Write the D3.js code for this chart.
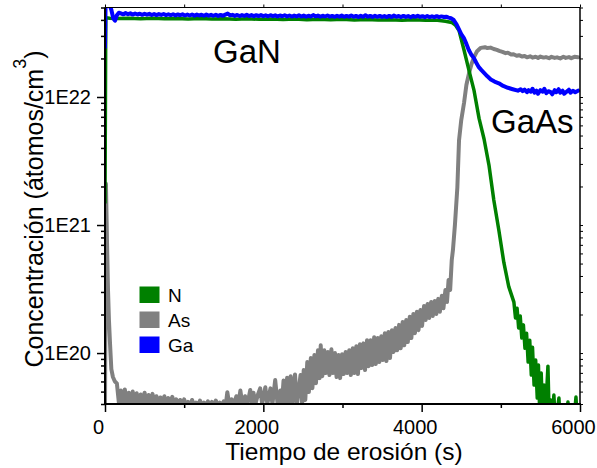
<!DOCTYPE html>
<html>
<head>
<meta charset="utf-8">
<script src="https://cdn.jsdelivr.net/npm/d3@7"></script>
<style>
  body { margin: 0; background: #fff; }
  svg { display: block; }
  text { font-family: "Liberation Sans", Arial, sans-serif; fill: #000; }
</style>
</head>
<body>
<svg id="chart" width="597" height="468"></svg>
<script>
// SIMS depth profile of a GaN layer on GaAs: concentration vs sputter time.
const seriesNames = ["N", "As", "Ga"];
const seriesColors = ["#008000", "#808080", "#0000ff"];
const layerLabels = ["GaN", "GaAs"];
const xTitle = "Tiempo de erosión (s)";
const yTitleMain = "Concentración (átomos/cm";
const yTitleSup = "3";
const xTickValues = [0, 2000, 4000, 6000];
const xTickLabels = ["0", "2000", "4000", "6000"];
const xMinorTicks = [1000, 3000, 5000];
const yTickValues = [1e20, 1e21, 1e22];
const yTickLabels = ["1E20", "1E21", "1E22"];

// [time (s), concentration (atoms/cm3)]
const nData = [
  [0, 1.5e21], [10, 4.15e22], [60, 4.12e22], [150, 4.1e22], [300, 4.13e22], [450, 4.09e22],
  [600, 4.12e22], [750, 4.08e22], [900, 4.11e22], [1050, 4.07e22], [1200, 4.1e22], [1350, 4.06e22],
  [1500, 4.09e22], [1650, 4.05e22], [1800, 4.08e22], [1950, 4.04e22], [2100, 4.07e22], [2250, 4.03e22],
  [2400, 4.06e22], [2550, 4.02e22], [2700, 4.05e22], [2850, 4.01e22], [3000, 4.04e22], [3150, 4.0e22],
  [3300, 4.03e22], [3450, 3.99e22], [3600, 4.02e22], [3750, 3.98e22], [3900, 4.01e22], [4050, 3.97e22],
  [4200, 3.98e22], [4300, 3.9e22], [4380, 3.82e22], [4430, 3.62e22], [4472, 3.3e22], [4535, 2.33e22],
  [4599, 1.6e22], [4662, 1.12e22], [4725, 6.8e21], [4788, 4.7e21], [4850, 2.94e21], [4911, 1.57e21],
  [4975, 9.1e20], [5038, 5.1e20], [5100, 3.3e20], [5165, 2.5e20], [5185, 1.88e20], [5205, 2.24e20],
  [5225, 1.57e20], [5245, 1.95e20], [5265, 1.31e20], [5285, 1.66e20], [5305, 1.09e20], [5325, 1.43e20],
  [5345, 8.5e19], [5365, 1.26e20], [5385, 6.73e19], [5400, 1.11e20], [5420, 5.62e19], [5440, 8.81e19],
  [5460, 4.45e19], [5475, 8.06e19], [5490, 3.58e19], [5510, 6.98e19], [5525, 3.58e19], [5545, 5.62e19],
  [5565, 3.27e19], [5580, 5.14e19], [5595, 7.9e19], [5610, 3.27e19], [5630, 4.3e19], [5650, 2.99e19],
  [5670, 4.7e19], [5690, 2.74e19], [5734, 4.45e19], [5750, 2.74e19], [5800, 2.74e19], [5848, 4.14e19],
  [5870, 2.74e19], [5920, 2.74e19], [5949, 4.53e19], [5970, 2.74e19]
];

const asData = [
  [0, 3.5e19], [12, 2.1e21], [25, 7.6e20], [38, 3.1e20], [50, 1.8e20], [63, 1.2e20], [80, 7.5e19],
  [100, 6.5e19], [125, 6.0e19],
  [150, 5.8e19], [175, 4.1e19], [200, 5.1e19], [225, 4.1e19], [250, 5.2e19], [275, 4.1e19],
  [300, 4.9e19], [325, 4.1e19], [350, 5.0e19], [375, 4.1e19], [400, 4.85e19], [425, 4.1e19],
  [450, 4.75e19], [475, 4.1e19], [500, 4.9e19], [525, 4.1e19], [550, 4.7e19], [575, 4.1e19],
  [600, 4.8e19], [625, 4.1e19], [650, 4.6e19], [675, 4.05e19], [700, 4.5e19], [725, 4.0e19],
  [750, 4.6e19], [775, 4.0e19], [800, 4.45e19], [825, 3.95e19], [850, 4.55e19], [875, 3.95e19],
  [900, 4.35e19], [925, 3.9e19], [950, 4.3e19], [975, 3.9e19], [1000, 4.35e19], [1025, 3.9e19],
  [1050, 4.15e19], [1075, 3.9e19], [1100, 4.3e19], [1125, 3.9e19], [1150, 4.1e19], [1175, 3.9e19],
  [1200, 4.25e19], [1225, 3.9e19], [1250, 4.1e19], [1275, 3.9e19], [1300, 4.2e19], [1325, 3.9e19],
  [1350, 4.15e19], [1375, 3.9e19], [1400, 4.25e19], [1425, 3.9e19], [1450, 4.1e19], [1475, 3.9e19],
  [1500, 4.2e19], [1525, 3.9e19], [1545, 4.95e19], [1570, 3.95e19], [1600, 4.35e19], [1625, 3.95e19],
  [1660, 4.6e19], [1685, 4.0e19], [1710, 5.1e19], [1735, 4.0e19], [1770, 4.6e19], [1800, 4.0e19],
  [1835, 5.15e19], [1860, 4.0e19], [1875, 4.9e19], [1900, 4.0e19], [1930, 4.7e19], [1960, 5.3e19],
  [1985, 4.0e19], [2025, 5.4e19], [2050, 4.0e19], [2090, 5.3e19], [2115, 4.0e19], [2150, 6.15e19],
  [2180, 4.0e19], [2215, 5.1e19], [2235, 4.0e19], [2255, 6.1e19], [2280, 4.0e19], [2300, 6.4e19],
  [2325, 4.0e19], [2345, 6.6e19], [2370, 4.0e19], [2400, 6.8e19], [2425, 4.0e19],
  [2470, 6.73e19], [2490, 4.0e19], [2510, 7.37e19], [2530, 4.3e19], [2555, 8.5e19], [2575, 4.96e19],
  [2600, 9.14e19], [2620, 5.32e19], [2645, 9.65e19], [2665, 5.82e19], [2690, 1.05e20], [2710, 6.37e19],
  [2725, 1.15e20], [2745, 6.6e19], [2770, 1.05e20], [2790, 6.98e19], [2815, 1.02e20], [2835, 6.73e19],
  [2860, 1.07e20], [2880, 6.98e19], [2905, 1.0e20], [2925, 6.5e19], [2950, 9.65e19], [2970, 6.37e19],
  [2995, 9.8e19], [3015, 6.85e19], [3040, 1.02e20], [3060, 6.98e19], [3085, 1.05e20], [3105, 6.73e19],
  [3130, 1.09e20], [3150, 6.98e19], [3175, 1.13e20], [3195, 6.85e19], [3220, 1.17e20], [3240, 7.64e19],
  [3265, 1.19e20], [3285, 7.37e19], [3310, 1.26e20], [3330, 7.9e19], [3355, 1.26e20], [3375, 8.06e19],
  [3400, 1.33e20], [3420, 8.2e19], [3445, 1.31e20], [3465, 8.5e19], [3490, 1.35e20], [3510, 8.81e19],
  [3535, 1.43e20], [3555, 8.66e19], [3580, 1.46e20], [3600, 9.14e19], [3625, 1.51e20], [3645, 1.02e20],
  [3670, 1.57e20], [3690, 1.05e20], [3715, 1.66e20], [3735, 1.09e20], [3760, 1.75e20], [3780, 1.15e20],
  [3805, 1.81e20], [3825, 1.22e20], [3850, 1.92e20], [3870, 1.31e20], [3895, 2.02e20], [3915, 1.43e20],
  [3940, 2.1e20], [3960, 1.51e20], [3985, 2.17e20], [4005, 1.63e20], [4030, 2.33e20], [4050, 1.81e20],
  [4075, 2.42e20], [4095, 1.88e20], [4120, 2.5e20], [4140, 1.95e20], [4165, 2.55e20], [4185, 2.02e20],
  [4210, 2.65e20], [4230, 2.1e20], [4255, 2.8e20], [4275, 2.24e20], [4300, 3.11e20], [4320, 2.5e20],
  [4340, 3.72e20], [4360, 3.11e20], [4380, 5.32e20], [4395, 6.37e20], [4420, 1.0e21], [4451, 1.98e21],
  [4472, 4.6e21], [4500, 6.6e21], [4535, 8.97e21], [4565, 1.24e22], [4599, 1.54e22], [4630, 1.81e22],
  [4662, 2.05e22], [4700, 2.28e22], [4747, 2.42e22], [4800, 2.45e22], [4830, 2.41e22], [4870, 2.43e22],
  [4911, 2.37e22], [4950, 2.33e22], [4980, 2.29e22], [5020, 2.25e22], [5060, 2.2e22], [5089, 2.22e22],
  [5130, 2.15e22], [5160, 2.16e22], [5200, 2.1e22], [5230, 2.12e22], [5270, 2.07e22], [5300, 2.09e22],
  [5330, 2.04e22], [5370, 2.08e22], [5400, 2.03e22], [5440, 2.06e22], [5470, 2.02e22], [5500, 2.07e22],
  [5540, 2.03e22], [5570, 2.05e22], [5610, 2.01e22], [5640, 2.06e22], [5680, 2.02e22], [5710, 2.04e22],
  [5750, 2.0e22], [5790, 2.06e22], [5820, 2.02e22], [5860, 2.05e22], [5890, 2.01e22], [5930, 2.06e22],
  [5975, 2.04e22]
];

const gaData = [
  [0, 2.45e22], [8, 5.6e22], [45, 5.5e22], [80, 4.8e22], [105, 4.1e22], [127, 3.95e22], [150, 4.35e22],
  [175, 4.55e22], [200, 4.5e22], [230, 4.42e22], [260, 4.52e22], [290, 4.43e22], [320, 4.5e22],
  [350, 4.4e22], [380, 4.49e22], [410, 4.41e22], [440, 4.47e22], [470, 4.38e22], [500, 4.47e22],
  [530, 4.39e22], [560, 4.46e22], [590, 4.37e22], [620, 4.45e22], [650, 4.36e22], [680, 4.44e22],
  [710, 4.37e22], [740, 4.45e22], [770, 4.36e22], [800, 4.42e22], [830, 4.35e22], [860, 4.43e22],
  [890, 4.34e22], [920, 4.41e22], [950, 4.35e22], [980, 4.42e22], [1010, 4.33e22], [1040, 4.4e22],
  [1070, 4.33e22], [1100, 4.41e22], [1130, 4.32e22], [1160, 4.4e22], [1190, 4.33e22], [1220, 4.39e22],
  [1250, 4.31e22], [1280, 4.4e22], [1310, 4.32e22], [1340, 4.38e22], [1370, 4.31e22], [1400, 4.39e22],
  [1430, 4.3e22], [1460, 4.37e22], [1490, 4.31e22], [1520, 4.4e22], [1550, 4.48e22], [1580, 4.34e22],
  [1610, 4.38e22], [1640, 4.3e22], [1670, 4.37e22], [1700, 4.29e22], [1730, 4.36e22], [1760, 4.3e22],
  [1790, 4.38e22], [1820, 4.29e22], [1850, 4.36e22], [1880, 4.28e22], [1910, 4.35e22], [1940, 4.29e22],
  [1970, 4.36e22], [2000, 4.28e22], [2030, 4.34e22], [2060, 4.27e22], [2090, 4.35e22], [2120, 4.28e22],
  [2150, 4.34e22], [2180, 4.26e22], [2210, 4.33e22], [2240, 4.27e22], [2270, 4.35e22], [2300, 4.26e22],
  [2330, 4.33e22], [2360, 4.25e22], [2390, 4.32e22], [2420, 4.26e22], [2450, 4.34e22], [2480, 4.25e22],
  [2510, 4.32e22], [2540, 4.24e22], [2570, 4.31e22], [2600, 4.25e22], [2630, 4.36e22], [2660, 4.26e22],
  [2690, 4.32e22], [2720, 4.24e22], [2750, 4.31e22], [2780, 4.25e22], [2810, 4.33e22], [2840, 4.24e22],
  [2870, 4.3e22], [2900, 4.23e22], [2930, 4.31e22], [2960, 4.24e22], [2990, 4.32e22], [3020, 4.23e22],
  [3050, 4.3e22], [3080, 4.24e22], [3110, 4.33e22], [3140, 4.23e22], [3170, 4.3e22], [3200, 4.22e22],
  [3230, 4.31e22], [3260, 4.23e22], [3290, 4.35e22], [3320, 4.24e22], [3350, 4.3e22], [3380, 4.22e22],
  [3410, 4.31e22], [3440, 4.23e22], [3470, 4.3e22], [3500, 4.22e22], [3530, 4.29e22], [3560, 4.21e22],
  [3590, 4.3e22], [3620, 4.22e22], [3650, 4.32e22], [3680, 4.23e22], [3710, 4.29e22], [3740, 4.21e22],
  [3770, 4.3e22], [3800, 4.22e22], [3830, 4.29e22], [3860, 4.2e22], [3890, 4.3e22], [3920, 4.23e22],
  [3950, 4.31e22], [3980, 4.22e22], [4010, 4.28e22], [4040, 4.2e22], [4070, 4.29e22], [4100, 4.21e22],
  [4130, 4.27e22], [4160, 4.2e22], [4190, 4.28e22], [4220, 4.2e22], [4250, 4.26e22], [4280, 4.22e22],
  [4310, 4.24e22], [4340, 4.17e22], [4370, 4.12e22], [4405, 3.99e22], [4440, 3.7e22], [4468, 3.4e22],
  [4500, 3.1e22], [4532, 2.9e22], [4565, 2.6e22], [4595, 2.33e22], [4625, 2.15e22], [4658, 2.02e22],
  [4690, 1.85e22], [4722, 1.71e22], [4755, 1.62e22], [4785, 1.55e22], [4830, 1.45e22], [4873, 1.37e22],
  [4920, 1.32e22], [4975, 1.28e22], [5030, 1.22e22], [5089, 1.18e22], [5150, 1.15e22], [5215, 1.12e22],
  [5250, 1.15e22], [5275, 1.11e22], [5300, 1.14e22], [5330, 1.09e22], [5350, 1.13e22], [5380, 1.1e22],
  [5400, 1.16e22], [5425, 1.08e22], [5450, 1.12e22], [5470, 1.06e22], [5500, 1.13e22], [5530, 1.1e22],
  [5550, 1.16e22], [5575, 1.07e22], [5600, 1.11e22], [5630, 1.09e22], [5650, 1.05e22], [5680, 1.13e22],
  [5700, 1.09e22], [5730, 1.15e22], [5750, 1.08e22], [5780, 1.12e22], [5800, 1.06e22], [5830, 1.1e22],
  [5860, 1.14e22], [5880, 1.08e22], [5910, 1.12e22], [5940, 1.09e22], [5975, 1.12e22]
];

const svg = d3.select("#chart");
const plot = { left: 105, right: 580, top: 7.5, bottom: 404 };

const x = d3.scaleLinear().domain([0, 6000]).range([plot.left, plot.right]);
const y = d3.scaleLog().domain([4e19, 5e22]).range([plot.bottom, plot.top]);

svg.append("defs").append("clipPath").attr("id", "plot-clip")
  .append("rect")
  .attr("x", plot.left).attr("y", plot.top)
  .attr("width", plot.right - plot.left).attr("height", plot.bottom - plot.top);

// Profiles: As underneath, then N, then Ga on top
const line = d3.line().x(d => x(d[0])).y(d => y(d[1]));
const layers = [
  { data: asData, color: seriesColors[1], width: 4 },
  { data: nData, color: seriesColors[0], width: 3.5 },
  { data: gaData, color: seriesColors[2], width: 4 }
];
const lines = svg.append("g").attr("clip-path", "url(#plot-clip)");
layers.forEach(l => {
  lines.append("path")
    .datum(l.data)
    .attr("d", line)
    .attr("fill", "none")
    .attr("stroke", l.color)
    .attr("stroke-width", l.width)
    .attr("stroke-linejoin", "round")
    .attr("stroke-linecap", "round");
});

// Axes
const minorY = y.ticks().filter(v => !yTickValues.includes(v));
const allX = x.ticks(6);

function styleAxis(g, w) {
  g.select(".domain").remove();
  g.selectAll(".tick line").attr("stroke", "#000").attr("stroke-width", w);
}

svg.append("g").attr("transform", `translate(0,${plot.bottom})`)
  .call(d3.axisBottom(x).tickValues(xMinorTicks).tickSize(4).tickFormat(""))
  .call(g => styleAxis(g, 1.5));
const xAxis = svg.append("g").attr("transform", `translate(0,${plot.bottom})`)
  .call(d3.axisBottom(x).tickValues(xTickValues).tickSize(8).tickPadding(8)
    .tickFormat((d, i) => xTickLabels[i]))
  .call(g => styleAxis(g, 1.5));
xAxis.selectAll("text")
  .attr("font-size", 20).attr("font-family", "Liberation Sans, Arial, sans-serif")
  .attr("fill", "#000").attr("dx", -7);

svg.append("g").attr("transform", `translate(0,${plot.top})`)
  .call(d3.axisTop(x).tickValues(allX).tickSize(3).tickFormat(""))
  .call(g => styleAxis(g, 1));

svg.append("g").attr("transform", `translate(${plot.left},0)`)
  .call(d3.axisLeft(y).tickValues(minorY).tickSize(4).tickFormat(""))
  .call(g => styleAxis(g, 1.5));
const yAxis = svg.append("g").attr("transform", `translate(${plot.left},0)`)
  .call(d3.axisLeft(y).tickValues(yTickValues).tickSize(8).tickPadding(6)
    .tickFormat((d, i) => yTickLabels[i]))
  .call(g => styleAxis(g, 1.5));
yAxis.selectAll("text")
  .attr("font-size", 20).attr("font-family", "Liberation Sans, Arial, sans-serif")
  .attr("fill", "#000");

svg.append("g").attr("transform", `translate(${plot.right},0)`)
  .call(d3.axisRight(y).tickValues(y.ticks()).tickSize(3).tickFormat(""))
  .call(g => styleAxis(g, 1));

// Frame
const frame = svg.append("g").attr("stroke", "#000").attr("fill", "none");
frame.append("line").attr("x1", plot.left).attr("x2", plot.right)
  .attr("y1", plot.top).attr("y2", plot.top).attr("stroke-width", 1.2);
frame.append("line").attr("x1", plot.right).attr("x2", plot.right)
  .attr("y1", plot.top).attr("y2", plot.bottom).attr("stroke-width", 1.5);
frame.append("line").attr("x1", plot.left - 1).attr("x2", plot.right + 1)
  .attr("y1", plot.bottom).attr("y2", plot.bottom).attr("stroke-width", 2);
frame.append("line").attr("x1", plot.left).attr("x2", plot.left)
  .attr("y1", plot.top).attr("y2", plot.bottom + 1).attr("stroke-width", 2);

// Axis titles
svg.append("text")
  .attr("x", 344).attr("y", 460)
  .attr("text-anchor", "middle").attr("font-size", 24.5)
  .text(xTitle);

const yTitle = svg.append("text")
  .attr("transform", "translate(43,209) rotate(-90)")
  .attr("text-anchor", "middle").attr("font-size", 25);
yTitle.append("tspan").text(yTitleMain);
yTitle.append("tspan").attr("font-size", 18).attr("dy", -17).text(yTitleSup);
yTitle.append("tspan").attr("dy", 17).text(")");

// Layer labels
svg.append("text").attr("x", 213).attr("y", 63).attr("font-size", 33).text(layerLabels[0]);
svg.append("text").attr("x", 491).attr("y", 133).attr("font-size", 33).text(layerLabels[1]);

// Legend
const legend = svg.append("g");
seriesNames.forEach((name, i) => {
  const top = 286.5 + i * 25;
  legend.append("rect")
    .attr("x", 139.5).attr("y", top).attr("width", 20).attr("height", 16.5)
    .attr("fill", seriesColors[i]);
  legend.append("text")
    .attr("x", 168).attr("y", top + 15.5)
    .attr("font-size", 19).text(name);
});
</script>
</body>
</html>
